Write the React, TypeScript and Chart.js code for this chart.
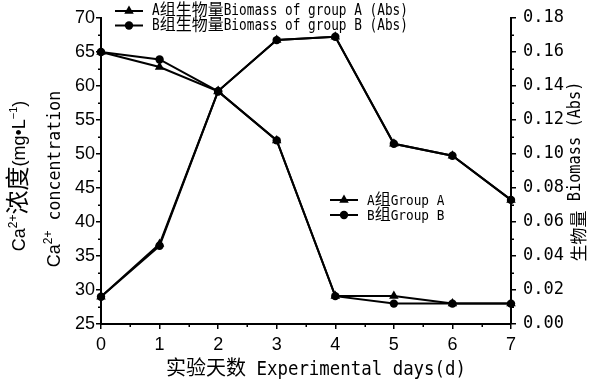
import { useEffect, useRef } from "react";
import { Chart, registerables } from "chart.js";

Chart.register(...registerables);

// Sampling days
const days = [0, 1, 2, 3, 4, 5, 6, 7];
// Ca2+ concentration, mg·L-1
const caGroupA = [65, 62.8, 59.2, 52, 29.1, 29.1, 28, 28];
const caGroupB = [65, 63.9, 59.2, 52, 29.1, 28, 28, 28];
// Biomass, Abs
const biomassA = [0.016, 0.047, 0.137, 0.167, 0.169, 0.106, 0.099, 0.073];
const biomassB = [0.016, 0.046, 0.137, 0.167, 0.169, 0.106, 0.099, 0.073];

// Axis ranges and tick steps
const dayRange = [0, 7];
const caRange = [25, 70];
const caStep = 5;
const biomassRange = [0, 0.18];
const biomassStep = 0.02;

const SANS = '"Liberation Sans", Arial, sans-serif';
const MONO = '"DejaVu Sans Mono", monospace';
const CJK = '"Noto Sans CJK SC", sans-serif';

type Run = { text: string; font: string; sx?: number; rise?: number };

const HAN = /[\u3400-\u9fff]/;

// Split a label into Latin / Han runs so each gets its own font
function mixed(text: string, latinPx: number, cjkPx: number, sx = 1, cjkRise = 0): Run[] {
  return text
    .split(/([\u3400-\u9fff]+)/)
    .filter((s) => s.length > 0)
    .map((s) =>
      HAN.test(s)
        ? { text: s, font: `${cjkPx}px ${CJK}`, rise: cjkRise }
        : { text: s, font: `${latinPx}px ${MONO}`, sx }
    );
}

function drawRuns(
  ctx: CanvasRenderingContext2D,
  runs: Run[],
  x: number,
  y: number,
  align: "left" | "center",
  rotation = 0
) {
  ctx.save();
  ctx.translate(x, y);
  if (rotation) ctx.rotate(rotation);
  ctx.fillStyle = "#000";
  ctx.textBaseline = "alphabetic";
  ctx.textAlign = "left";
  const widths = runs.map((r) => {
    ctx.font = r.font;
    return ctx.measureText(r.text).width * (r.sx ?? 1);
  });
  const total = widths.reduce((a, b) => a + b, 0);
  let cx = align === "center" ? -total / 2 : 0;
  runs.forEach((r, i) => {
    ctx.save();
    ctx.font = r.font;
    ctx.translate(cx, -(r.rise ?? 0));
    ctx.scale(r.sx ?? 1, 1);
    ctx.fillText(r.text, 0, 0);
    ctx.restore();
    cx += widths[i];
  });
  ctx.restore();
}

function legendSample(
  ctx: CanvasRenderingContext2D,
  x1: number,
  x2: number,
  y: number,
  style: "triangle" | "circle"
) {
  ctx.save();
  ctx.strokeStyle = "#000";
  ctx.fillStyle = "#000";
  ctx.lineWidth = 2;
  ctx.beginPath();
  ctx.moveTo(x1, y);
  ctx.lineTo(x2, y);
  ctx.stroke();
  const cx = (x1 + x2) / 2;
  ctx.beginPath();
  if (style === "triangle") {
    const r = 5.5;
    ctx.moveTo(cx, y - r);
    ctx.lineTo(cx + r * 0.866, y + r / 2);
    ctx.lineTo(cx - r * 0.866, y + r / 2);
    ctx.closePath();
  } else {
    ctx.arc(cx, y, 4.2, 0, Math.PI * 2);
  }
  ctx.fill();
  ctx.restore();
}

const decorations = {
  id: "decorations",
  afterDraw(chart: any) {
    const ctx: CanvasRenderingContext2D = chart.ctx;
    const { x, y, y1 } = chart.scales;

    // minor ticks
    ctx.save();
    ctx.strokeStyle = "#000";
    ctx.lineWidth = 1.5;
    ctx.beginPath();
    for (let v = caRange[0] + caStep / 2; v < caRange[1]; v += caStep) {
      const py = Math.round(y.getPixelForValue(v)) + 0.25;
      ctx.moveTo(y.right, py);
      ctx.lineTo(y.right - 3, py);
    }
    for (let v = biomassRange[0] + biomassStep / 2; v < biomassRange[1]; v += biomassStep) {
      const py = Math.round(y1.getPixelForValue(v)) + 0.25;
      ctx.moveTo(y1.left, py);
      ctx.lineTo(y1.left + 3, py);
    }
    for (let v = dayRange[0] + 0.5; v < dayRange[1]; v += 1) {
      const px = Math.round(x.getPixelForValue(v)) + 0.25;
      ctx.moveTo(px, x.top);
      ctx.lineTo(px, x.top + 3);
    }
    ctx.stroke();
    ctx.restore();

    // biomass legend
    legendSample(ctx, 115, 143, 11, "triangle");
    legendSample(ctx, 115, 143, 25.5, "circle");
    drawRuns(ctx, mixed("A组生物量Biomass of group A (Abs)", 15, 16, 0.85), 152, 15, "left");
    drawRuns(ctx, mixed("B组生物量Biomass of group B (Abs)", 15, 16, 0.85), 152, 30, "left");

    // Ca2+ legend
    legendSample(ctx, 330, 358, 200, "triangle");
    legendSample(ctx, 330, 358, 215, "circle");
    drawRuns(ctx, mixed("A组Group A", 14, 16, 0.91), 367, 205, "left");
    drawRuns(ctx, mixed("B组Group B", 14, 16, 0.91), 367, 220, "left");

    // x title
    drawRuns(ctx, mixed("实验天数 Experimental days(d)", 20, 20, 0.87), 316, 375, "center");

    // left titles
    const up = -Math.PI / 2;
    drawRuns(
      ctx,
      [
        { text: "Ca", font: `18px ${SANS}` },
        { text: "2+", font: `12px ${SANS}`, rise: 8 },
        { text: "浓度", font: `24px ${CJK}`, rise: -1 },
        { text: "(mg•L", font: `18px ${SANS}` },
        { text: "−1", font: `11px ${SANS}`, rise: 8 },
        { text: ")", font: `18px ${SANS}` },
      ],
      25,
      176,
      "center",
      up
    );
    drawRuns(
      ctx,
      [
        { text: "Ca", font: `18px ${SANS}` },
        { text: "2+", font: `12px ${SANS}`, rise: 8 },
        { text: " concentration", font: `18px ${MONO}`, sx: 0.92 },
      ],
      60,
      179,
      "center",
      up
    );

    // right title
    drawRuns(ctx, mixed("生物量 Biomass (Abs)", 18, 17, 0.85, -5), 580, 171.5, "center", up);
  },
};

const tickFont = { family: SANS, size: 18 };

export default function App() {
  const ref = useRef<HTMLCanvasElement>(null);

  useEffect(() => {
    const canvas = ref.current;
    if (!canvas) return;
    const pts = (vals: number[]) => days.map((d, i) => ({ x: d, y: vals[i] }));
    const common = {
      borderColor: "#000",
      backgroundColor: "#000",
      pointBackgroundColor: "#000",
      pointBorderColor: "#000",
      borderWidth: 2,
      pointBorderWidth: 0,
      tension: 0,
      clip: false as any,
    };
    const chart = new Chart(canvas, {
      type: "line",
      data: {
        datasets: [
          { ...common, label: "A组Group A", data: pts(caGroupA), yAxisID: "y", pointStyle: "triangle", pointRadius: 5.5 },
          { ...common, label: "B组Group B", data: pts(caGroupB), yAxisID: "y", pointStyle: "circle", pointRadius: 4.2 },
          { ...common, label: "A组生物量Biomass of group A (Abs)", data: pts(biomassA), yAxisID: "y1", pointStyle: "triangle", pointRadius: 5.5 },
          { ...common, label: "B组生物量Biomass of group B (Abs)", data: pts(biomassB), yAxisID: "y1", pointStyle: "circle", pointRadius: 4.2 },
        ],
      },
      options: {
        responsive: false,
        animation: false,
        devicePixelRatio: 1,
        layout: { padding: { top: 18, left: 0, right: 0, bottom: 0 } },
        plugins: { legend: { display: false }, tooltip: { enabled: false } },
        scales: {
          x: {
            type: "linear",
            position: "bottom",
            min: dayRange[0],
            max: dayRange[1],
            ticks: { stepSize: 1, font: tickFont, color: "#000", padding: 5 },
            grid: { drawOnChartArea: false, tickLength: 5, color: "#000", lineWidth: 1.5 },
            border: { color: "#000", width: 2 },
            afterFit: (s: any) => {
              s.height = 60;
            },
          },
          y: {
            type: "linear",
            position: "left",
            min: caRange[0],
            max: caRange[1],
            ticks: { stepSize: caStep, font: tickFont, color: "#000", padding: 1 },
            grid: { drawOnChartArea: false, tickLength: 5, color: "#000", lineWidth: 1.5 },
            border: { color: "#000", width: 2 },
            afterFit: (s: any) => {
              s.width = 101;
            },
          },
          y1: {
            type: "linear",
            position: "right",
            min: biomassRange[0],
            max: biomassRange[1],
            ticks: {
              stepSize: biomassStep,
              font: { family: MONO, size: 17 },
              color: "#000",
              padding: 7,
              callback: (v: any) => Number(v).toFixed(2),
            },
            grid: { drawOnChartArea: false, tickLength: 5, color: "#000", lineWidth: 1.5 },
            border: { color: "#000", width: 2 },
            afterFit: (s: any) => {
              s.width = 82;
            },
          },
        },
      } as any,
      plugins: [decorations],
    });
    return () => chart.destroy();
  }, []);

  return (
    <div style={{ position: "absolute", left: 0, top: 0, width: 593, height: 384, background: "#fff" }}>
      <canvas ref={ref} width={593} height={384} style={{ display: "block" }} />
    </div>
  );
}
